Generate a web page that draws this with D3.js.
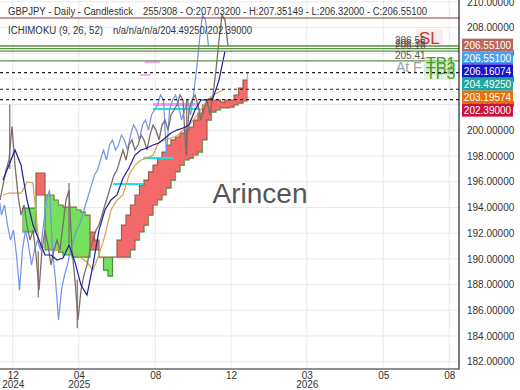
<!DOCTYPE html>
<html>
<head>
<meta charset="utf-8">
<script src="https://cdn.jsdelivr.net/npm/d3@7"></script>
<style>
  body { margin: 0; background: #fff; }
  svg { display: block; font-family: "Liberation Sans", Arial, sans-serif; }
</style>
</head>
<body>
<svg id="chart" width="520" height="390"></svg>
<script>
// bar index of a value = start + i * step
const closeStart = 0, closeStep = 4;
const closes = [194.58, 195.74, 196.91, 197.69, 200.3, 197.3, 194.97, 193.41, 194.19, 192.63,
  191.46, 192.24, 190.3, 187.57, 190.69, 192.24, 191.07, 189.52, 190.69, 191.46,
  190.69, 192.63, 194.58, 195.35, 190.69, 188.35, 185.24, 187.57, 188.74, 189.52,
  190.69, 191.46, 192.24, 192.63, 193.41, 194.19, 194.97, 195.74, 196.52, 196.91,
  197.69, 198.47, 197.69, 198.86, 199.25, 198.47, 198.86, 199.63, 199.25, 198.47,
  199.63, 200.41, 200.02, 199.25, 200.41, 200.8, 200.02, 201.19, 201.58, 201.97,
  202.75, 202.36, 198.08, 201.58, 202.36, 202.75, 201.97, 200.8, 201.58, 202.36,
  201.19, 202.75, 204.69, 207.03, 208.97, 208.58, 206.551];
const chikouShift = 26;
// [bar, low, high] of the longest candle wicks
const wicks = [[13, 197.0, 202.0], [51, 187.0, 190.6], [92, 191.2, 195.9], [103, 184.6, 188.4], [249, 198.0, 202.4]];

const lineStart = 4, lineStep = 8;
const tenkan = [196.13, 197.3, 198.47, 197.3, 194.58, 192.63, 191.46, 190.3, 190.3, 189.91,
  190.06, 191.07, 189.75, 187.96, 187.18, 189.52, 192.24, 193.8, 194.58, 194.97,
  196.29, 197.07, 198.08, 198.47, 198.62, 198.86, 199.01, 199.4, 199.79, 200.02,
  200.18, 200.41, 201.58, 202.36, 202.36, 202.51, 203.91, 206.16074];
const kijun = [194.97, 195.12, 195.12, 195.12, 195.98, 195.9, 191.07, 190.84, 190.84, 190.69,
  190.69, 190.69, 190.53, 190.06, 189.75, 189.13, 190.3, 191.85, 193.8, 194.58,
  194.97, 196.52, 197.3, 197.69, 197.84, 198.08, 199.09, 199.25, 199.4, 199.56,
  200.02, 200.41, 200.96, 201.58, 202.36, 202.75, 202.98, 203.19574];

const cloudStart = 30, cloudStep = 6;
const spanA = [192.09, 192.09, 192.09, 196.68, 196.68, 190.69, 190.69, 190.69, 190.53, 190.3,
  190.3, 190.14, 190.14, 190.14, 190.14, 192.09, 191.46, 190.14, 189.13, 188.66,
  190.14, 191.46, 192.63, 193.41, 194.19, 194.97, 195.74, 196.13, 196.76, 197.3,
  197.84, 198.31, 198.86, 199.25, 199.48, 199.79, 200.02, 200.26, 200.8, 201.35,
  201.97, 202.36, 202.36, 202.36, 202.2, 202.36, 202.36, 202.75, 203.29, 203.91, 204.4925];
const spanB = [193.95, 193.95, 193.95, 194.97, 194.97, 194.97, 194.97, 194.58, 194.19, 194.03,
  194.03, 194.03, 193.8, 193.64, 193.41, 190.69, 190.69, 190.14, 190.14, 190.14,
  190.14, 190.14, 190.14, 190.14, 190.69, 191.46, 192.09, 192.63, 193.41, 194.19,
  194.58, 194.97, 195.51, 196.13, 196.76, 197.3, 197.69, 197.84, 198.08, 198.31,
  199.25, 200.8, 201.42, 201.58, 201.74, 201.74, 201.81, 201.97, 202.12, 202.28, 202.39];

// [from bar, to bar, price]
const cyanSegs = [[151, 191, 195.82], [191, 231, 197.85], [204, 267, 201.66]];
const pinkSegs = [[204, 264, 202.0, 3], [187, 201, 204.3, 1.5], [193, 213, 205.3, 1.5]];

const xTickBars = [17, 105, 207, 308, 409, 511, 599];
const xTickLabels = [["12", "2024"], ["04", "2025"], ["08"], ["12"], ["03", "2026"], ["05"], ["08"]];
const yTicks = d3.range(182, 211, 2);

const stopLoss = 208.74;
const targets = [206.56, 206.35, 206.16, 205.41];
const tpNames = ["TP1", "TP2", "TP3"];
const dottedLevels = [204.4925, 203.19574, 202.39];

const tagValues = [206.551, 206.551, 206.16074, 204.4925, 203.19574, 202.39];
const tagColors = ["#b9675c", "#4aa0f0", "#1414cc", "#1fa59c", "#e5700f", "#c8123f"];

const title1 = ["GBPJPY - Daily - Candlestick", "255/308 - O:207.03200 - H:207.35149 - L:206.32000 - C:206.55100"];
const title2 = ["ICHIMOKU (9, 26, 52)", "n/a/n/a/n/a/204.49250/202.39000"];

const W = 459, H = 369;
const svg = d3.select("#chart");
const x = d3.scaleLinear().domain([0, 612]).range([0, W]);
const y = d3.scaleLinear().domain([181.43, 210.14]).range([H, 0]);

svg.append("rect").attr("width", 520).attr("height", 390).attr("fill", "#fff");

// grid
svg.append("g").selectAll("line").data(yTicks).join("line")
  .attr("x1", 0).attr("x2", W).attr("y1", d => y(d)).attr("y2", d => y(d))
  .attr("stroke", "#e9e9e9");
svg.append("g").selectAll("line").data(xTickBars).join("line")
  .attr("x1", d => x(d)).attr("x2", d => x(d)).attr("y1", 0).attr("y2", H)
  .attr("stroke", "#e9e9e9");

// watermark
svg.append("text").attr("x", 260).attr("y", 203).attr("text-anchor", "middle")
  .attr("font-size", 28).attr("fill", "#555").text("Arincen");

// cloud: red where span A is above span B, green otherwise
const cloud = spanA.map((a, i) => ({ i: cloudStart + i * cloudStep, a, b: spanB[i] }));
const defs = svg.append("defs");
defs.append("clipPath").attr("id", "aboveB").append("path")
  .attr("d", d3.area().curve(d3.curveStepAfter).x(d => x(d.i)).y0(0).y1(d => y(d.b))(cloud));
defs.append("clipPath").attr("id", "belowB").append("path")
  .attr("d", d3.area().curve(d3.curveStepAfter).x(d => x(d.i)).y0(H).y1(d => y(d.b))(cloud));
const cloudArea = d3.area().curve(d3.curveStepAfter)
  .x(d => x(d.i)).y0(d => y(d.b)).y1(d => y(d.a));
svg.append("path").datum(cloud).attr("clip-path", "url(#aboveB)")
  .attr("d", cloudArea).attr("fill", "#f46a6a").attr("stroke", "#9b5a4a").attr("stroke-width", 1.2);
svg.append("path").datum(cloud).attr("clip-path", "url(#belowB)")
  .attr("d", cloudArea).attr("fill", "#74e05c").attr("stroke", "#4a8a3a").attr("stroke-width", 1.2);

// cyan / pink segments
svg.append("g").selectAll("line").data(pinkSegs).join("line")
  .attr("x1", d => x(d[0])).attr("x2", d => x(d[1])).attr("y1", d => y(d[2])).attr("y2", d => y(d[2]))
  .attr("stroke", "#ff7df0").attr("stroke-width", d => d[3]).attr("opacity", 0.8);
svg.append("g").selectAll("line").data(cyanSegs).join("line")
  .attr("x1", d => x(d[0])).attr("x2", d => x(d[1])).attr("y1", d => y(d[2])).attr("y2", d => y(d[2]))
  .attr("stroke", "#14e4e4").attr("stroke-width", 2);

const line = d3.line().x(d => x(d[0])).y(d => y(d[1]));
const series = (arr, start, step) => arr.map((v, i) => [start + i * step, v]);

svg.append("path").attr("d", line(series(kijun, lineStart, lineStep)))
  .attr("fill", "none").attr("stroke", "#d6a24e").attr("stroke-width", 1.2);
svg.append("path").attr("d", line(series(closes, closeStart - chikouShift, closeStep)))
  .attr("fill", "none").attr("stroke", "#7393e6").attr("stroke-width", 1.2);
svg.append("g").selectAll("line").data(wicks).join("line")
  .attr("x1", d => x(d[0])).attr("x2", d => x(d[0])).attr("y1", d => y(d[1])).attr("y2", d => y(d[2]))
  .attr("stroke", "#7c6d68").attr("stroke-width", 1.2);
svg.append("path").attr("d", line(series(closes, closeStart, closeStep)))
  .attr("fill", "none").attr("stroke", "#7c6d68").attr("stroke-width", 1.3);
svg.append("path").attr("d", line(series(tenkan, lineStart, lineStep)))
  .attr("fill", "none").attr("stroke", "#1e1ea0").attr("stroke-width", 1.2);

// level lines
svg.append("line").attr("x1", 0).attr("x2", W).attr("y1", y(stopLoss)).attr("y2", y(stopLoss))
  .attr("stroke", "#8c3b32").attr("stroke-width", 1);
svg.append("rect").attr("x", 416).attr("y", y(stopLoss) + 11).attr("width", 27).attr("height", 18)
  .attr("fill", "#fbe4e4").attr("opacity", 0.7);
svg.append("text").attr("x", 419).attr("y", y(stopLoss) + 26).attr("font-size", 17)
  .attr("fill", "#c0392b").text("SL");

svg.append("g").selectAll("line").data(targets).join("line")
  .attr("x1", 0).attr("x2", W).attr("y1", d => y(d)).attr("y2", d => y(d))
  .attr("stroke", "#5f8f4a").attr("stroke-width", 1.3);
svg.append("g").selectAll("text").data(targets).join("text")
  .attr("x", 395).attr("y", d => y(d) - 2).attr("font-size", 10).attr("fill", "#555")
  .text(d => d.toFixed(2));
svg.append("text").attr("x", 396).attr("y", y(targets[3]) + 11).attr("font-size", 14)
  .attr("fill", "#a0a0a0").text("At F");
tpNames.forEach((t, i) => {
  const ty = y(targets[3]) + 8 + i * 5;
  svg.append("rect").attr("x", 424).attr("y", ty - 12).attr("width", 31).attr("height", 13)
    .attr("fill", "#bfeab5").attr("opacity", 0.45);
  svg.append("text").attr("x", 426).attr("y", ty).attr("font-size", 16)
    .attr("fill", "#4c9a2a").text(t);
});

svg.append("g").selectAll("line").data(dottedLevels).join("line")
  .attr("x1", 0).attr("x2", W).attr("y1", d => y(d)).attr("y2", d => y(d))
  .attr("stroke", "#222").attr("stroke-width", 1.2).attr("stroke-dasharray", "3,3");

// frame
svg.append("path").attr("d", `M${W},0V${H}H0`).attr("fill", "none").attr("stroke", "#222").attr("stroke-width", 1.2);

// axes
const yAxis = svg.append("g").attr("transform", `translate(${W},0)`)
  .call(d3.axisRight(y).tickValues(yTicks).tickSize(0).tickPadding(8).tickFormat(d => d.toFixed(5)));
yAxis.select(".domain").remove();
yAxis.selectAll("text").attr("font-size", 10).attr("fill", "#333").attr("font-family", "Liberation Sans, Arial, sans-serif");

const xAxis = svg.append("g").attr("transform", `translate(0,${H})`)
  .call(d3.axisBottom(x).tickValues(xTickBars).tickSize(0).tickFormat(""));
xAxis.select(".domain").remove();
xAxis.selectAll(".tick").append("text").attr("fill", "#333").attr("font-size", 10)
  .attr("font-family", "Liberation Sans, Arial, sans-serif").attr("text-anchor", "middle")
  .each(function (d, i) {
    const t = d3.select(this);
    xTickLabels[i].forEach((s, k) => t.append("tspan").attr("x", 0).attr("y", 10 + k * 8.5).text(s));
  });

// price tags
let last = -Infinity;
const tagY = tagValues.map(v => { last = Math.max(y(v) - 1, last + 13); return last; });
const tags = svg.append("g").selectAll("g").data(tagValues).join("g")
  .attr("transform", (d, i) => `translate(462,${tagY[i]})`);
tags.append("rect").attr("x", 0).attr("y", -6.5).attr("width", 51).attr("height", 13)
  .attr("fill", (d, i) => tagColors[i]);
tags.filter((d, i) => i === 1).append("rect").attr("x", 0).attr("y", 5).attr("width", 51).attr("height", 1.5)
  .attr("fill", "#9a44d6");
tags.append("text").attr("x", 25.5).attr("y", 3.5).attr("text-anchor", "middle")
  .attr("font-size", 10).attr("fill", "#fff").text(d => d.toFixed(5));

// titles
const tl = [[8, 15, title1[0], 125], [143, 15, title1[1], 284], [8, 34, title2[0], 95], [113, 34, title2[1], 139]];
svg.append("g").selectAll("text").data(tl).join("text")
  .attr("x", d => d[0]).attr("y", d => d[1]).attr("font-size", 10).attr("fill", "#333")
  .attr("textLength", d => d[3]).attr("lengthAdjust", "spacingAndGlyphs").text(d => d[2]);
</script>
</body>
</html>
